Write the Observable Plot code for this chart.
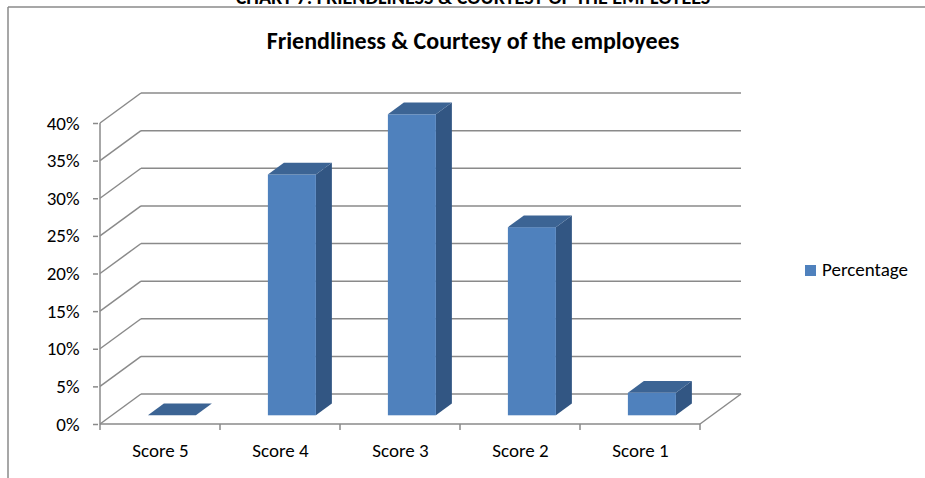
<!DOCTYPE html>
<html>
<head>
<meta charset="utf-8">
<script src="https://cdn.jsdelivr.net/npm/d3@7"></script>
<script src="https://cdn.jsdelivr.net/npm/@observablehq/plot@0.6"></script>
<style>
  html, body { margin: 0; padding: 0; background: #fff; }
  #chart { position: relative; width: 925px; height: 478px; overflow: hidden; }
  #chart svg { display: block; }
</style>
</head>
<body>
<div id="chart"></div>
<script>
// ---- data ----
const categories = ["Score 5", "Score 4", "Score 3", "Score 2", "Score 1"];
const percentages = [0, 32, 40, 25, 3];
const yTicks = [0, 5, 10, 15, 20, 25, 30, 35, 40];
const yTickLabels = ["0%", "5%", "10%", "15%", "20%", "25%", "30%", "35%", "40%"];
const seriesName = "Percentage";
const chartTitle = "Friendliness & Courtesy of the employees";
const captionText = "CHART 7: FRIENDLINESS & COURTESY OF THE EMPLOYEES";

const data = categories.map((c, i) => ({category: c, value: percentages[i]}));

const FONT = "Carlito, Calibri, Lato, sans-serif";
const GRID = "#8a8a8a";
const FRONT = "#4f81bd", TOP = "#3c6494", SIDE = "#325683";
const FS = 19;

// depth of the 3D box (pixels) and bar placement inside it
const DX = 41, DY = -30;
const F0 = 0.29, F1 = 0.68;   // bar front / back depth fraction
const INSET = 36;             // bar inset inside its band

function scene(index, scales, values, dimensions) {
  const sx = scales.x, sy = scales.y;
  const bw = typeof sx.bandwidth === "function" ? sx.bandwidth() : (sx(categories[1]) - sx(categories[0]));
  const x0 = sx(categories[0]);
  const x1 = sx(categories[categories.length - 1]) + bw;
  const yb = sy(0);
  const g = d3.create("svg:g");
  const line = (a, b, c, d) => g.append("line").attr("x1", a).attr("y1", b).attr("x2", c).attr("y2", d)
    .attr("stroke", GRID).attr("stroke-width", 1.5);
  // back wall gridlines and side wall diagonals
  for (const t of yTicks) {
    const y = sy(t);
    line(x0 + DX, y + DY, x1 + DX, y + DY);
    line(x0, y, x0 + DX, y + DY);
  }
  // floor right edge
  line(x1, yb, x1 + DX, yb + DY);
  // front axes
  line(x0, yb, x1, yb);
  line(x0, yb, x0, sy(yTicks[yTicks.length - 1]));
  // category boundary ticks
  for (let i = 0; i <= categories.length; i++) {
    const x = x0 + i * bw;
    line(x, yb, x, yb + 6);
  }
  // bars
  const fx = DX * F0, fy = DY * F0;
  const sdx = DX * (F1 - F0), sdy = DY * (F1 - F0);
  for (const d of data) {
    const left = sx(d.category) + INSET + fx;
    const right = sx(d.category) + bw - INSET + fx;
    const top = sy(d.value) + fy;
    const bot = yb + fy;
    const poly = (pts, fill) => g.append("polygon").attr("points", pts.map(p => p.join(",")).join(" ")).attr("fill", fill);
    if (d.value > 0) {
      poly([[right, bot], [right + sdx, bot + sdy], [right + sdx, top + sdy], [right, top]], SIDE);
      g.append("rect").attr("x", left).attr("y", top).attr("width", right - left).attr("height", bot - top).attr("fill", FRONT);
    }
    poly([[left, top], [left + sdx, top + sdy], [right + sdx, top + sdy], [right, top]], TOP);
  }
  return g.node();
}

const plot = Plot.plot({
  width: 925,
  height: 478,
  marginLeft: 98,
  marginRight: 223,
  marginTop: 123,
  marginBottom: 54,
  style: {fontFamily: FONT, fontSize: FS + "px", color: "#000", background: "transparent"},
  x: {type: "band", domain: categories, paddingInner: 0, paddingOuter: 0},
  y: {domain: [0, 40]},
  marks: [
    Plot.barY(data, {x: "category", y: "value", fill: "none"}),
    scene,
    Plot.axisY({ticks: yTicks, tickFormat: (d) => yTickLabels[yTicks.indexOf(d)], tickSize: 5, tickPadding: 14,
      stroke: GRID, strokeWidth: 1.5, fontSize: FS, label: null, fill: "#000"}),
    Plot.axisX({tickSize: 0, tickPadding: 19, fontSize: FS, label: null, fill: "#000"})
  ]
});

document.getElementById("chart").appendChild(plot);

// chart frame, caption, title, legend
const svg = d3.select(plot);
svg.append("line").attr("x1", 8).attr("y1", 7).attr("x2", 925).attr("y2", 7).attr("stroke", GRID).attr("stroke-width", 1.5);
svg.append("line").attr("x1", 8).attr("y1", 7).attr("x2", 8).attr("y2", 478).attr("stroke", GRID).attr("stroke-width", 1.5);
svg.append("text").attr("x", 473).attr("y", 4).attr("text-anchor", "middle")
  .attr("font-family", FONT).attr("font-weight", "bold").attr("font-size", 20).attr("fill", "#000").text(captionText);
svg.append("text").attr("x", 473).attr("y", 49).attr("text-anchor", "middle")
  .attr("font-family", FONT).attr("font-weight", "bold").attr("font-size", 24).attr("fill", "#000").text(chartTitle);
svg.append("rect").attr("x", 805).attr("y", 265).attr("width", 11).attr("height", 11).attr("fill", FRONT);
svg.append("text").attr("x", 822).attr("y", 276).attr("text-anchor", "start")
  .attr("font-family", FONT).attr("font-size", FS).attr("fill", "#000").text(seriesName);
</script>
</body>
</html>
